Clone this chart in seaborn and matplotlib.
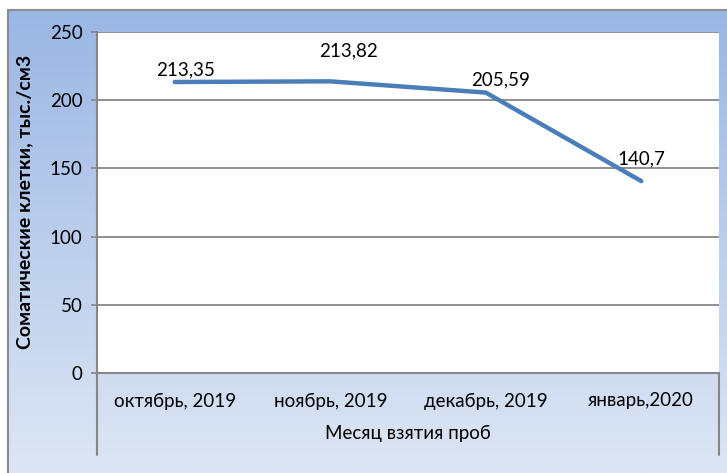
import numpy as np
import pandas as pd
import matplotlib
matplotlib.use("Agg")
import matplotlib.pyplot as plt
import seaborn as sns
from matplotlib.colors import LinearSegmentedColormap

categories = ["октябрь, 2019", "ноябрь, 2019", "декабрь, 2019", "январь,2020"]
values = [213.35, 213.82, 205.59, 140.7]
value_labels = ["213,35", "213,82", "205,59", "140,7"]
y_ticks = [0, 50, 100, 150, 200, 250]
y_label = "Соматические клетки, тыс./см3"
x_label = "Месяц взятия проб"

sns.set_theme(style="white")
plt.rcParams['font.family'] = ['Lato', 'DejaVu Sans']

W, H = 727, 473
fig = plt.figure(figsize=(W / 100, H / 100), dpi=100)
fig.patch.set_facecolor("white")

# background gradient panel
bg = fig.add_axes([7 / W, 0, 1 - 7 / W, (H - 10) / H])
cmap = LinearSegmentedColormap.from_list("g", ["#9ab6e3", "#dde6f4"])
grad = np.linspace(0, 1, 256).reshape(-1, 1)
bg.imshow(grad, aspect="auto", cmap=cmap, extent=[0, 1, 0, 1], origin="upper")
bg.set_xlim(0, 1)
bg.set_ylim(0, 1)
bg.axis("off")
# border (left and top visible)
fig.add_artist(plt.Line2D([7.5 / W, 7.5 / W], [0, (H - 10) / H], color="#8c8c8c", lw=1.5))
fig.add_artist(plt.Line2D([7.5 / W, 1], [(H - 10) / H, (H - 10) / H], color="#8c8c8c", lw=1.5))

left, right, top, bottom = 97, 719, 32, 373
ax = fig.add_axes([left / W, (H - bottom) / H, (right - left) / W, (bottom - top) / H])
ax.set_facecolor("white")

df = pd.DataFrame({"month": categories, "value": values})
sns.lineplot(data=df, x="month", y="value", ax=ax, color="#4a7ebb", lw=3.2,
             solid_capstyle="round", solid_joinstyle="round", sort=False, zorder=3)

fs = 13.5
ax.set_xlim(-0.5, len(categories) - 0.5)
ax.set_ylim(0, 250)
ax.set_yticks(y_ticks)
ax.set_yticklabels([str(t) for t in y_ticks], fontsize=fs, color="black")
ax.yaxis.grid(True, color="#868686", lw=1.3)
ax.set_axisbelow(True)
ax.tick_params(axis="y", length=4.5, width=1.2, color="#868686", pad=6, left=True)
ax.tick_params(axis="x", length=0, pad=14, labelsize=fs)
for t in ax.get_xticklabels():
    t.set_color("black")

for s in ["top", "right"]:
    ax.spines[s].set_visible(False)
for s in ["left", "bottom"]:
    ax.spines[s].set_color("#868686")
    ax.spines[s].set_linewidth(1.5)

# extended vertical lines below the axis (category-axis box)
ext = -(455 - bottom) / (bottom - top)
ax.plot([0, 0], [0, ext], transform=ax.transAxes, color="#868686", lw=1.5, clip_on=False)
ax.plot([1, 1], [0, ext], transform=ax.transAxes, color="#868686", lw=1.5, clip_on=False)

ax.set_xlabel(x_label, fontsize=fs, color="black", labelpad=11)
ax.set_ylabel("")
fig.text(25 / W, (H - 202) / H, y_label, rotation=90, fontsize=14, fontweight="bold",
         ha="center", va="center", color="black")

offsets = [(11, 12), (18, 30), (15, 13), (0, 22)]
for i, (v, lab) in enumerate(zip(values, value_labels)):
    ax.annotate(lab, (i, v), xytext=offsets[i], textcoords="offset pixels",
                ha="center", va="center", fontsize=fs, color="black", zorder=4)

fig.savefig("out.png", dpi=100)
